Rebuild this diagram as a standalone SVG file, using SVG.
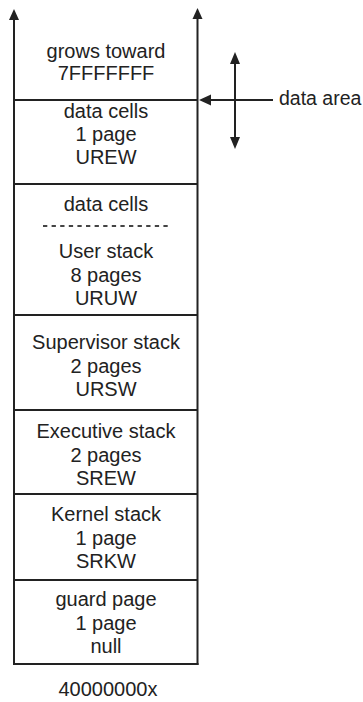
<svg xmlns="http://www.w3.org/2000/svg" width="363" height="702" viewBox="0 0 363 702">
<style>
.t{font-family:"Liberation Sans",Arial,sans-serif;font-size:20px;fill:#222;text-anchor:middle}
.ln{stroke:#222;stroke-width:2;fill:none}
.hd{fill:#222}
</style>
<rect width="363" height="702" fill="#fff"/>
<g id="connectors">
  <line class="ln" x1="14" y1="18" x2="14" y2="665"/>
  <polygon class="hd" points="14,9 9,20 19,20"/>
  <line class="ln" x1="197.5" y1="17" x2="197.5" y2="665"/>
  <polygon class="hd" points="197.5,8 192.5,19 202.5,19"/>
  <line class="ln" x1="210" y1="100" x2="273" y2="100"/>
  <polygon class="hd" points="199,100 211,94.5 211,105.5"/>
  <line class="ln" x1="235" y1="62" x2="235" y2="140"/>
  <polygon class="hd" points="235,52 230,64 240,64"/>
  <polygon class="hd" points="235,149 230,137 240,137"/>
</g>
<g id="top">
  <text class="t" x="106" y="58">grows toward</text>
  <text class="t" x="106" y="80">7FFFFFFF</text>
</g>
<g id="data-cells-1">
  <line class="ln" x1="14" y1="100" x2="197.5" y2="100"/>
  <text class="t" x="106" y="118">data cells</text>
  <text class="t" x="106" y="141">1 page</text>
  <text class="t" x="106" y="164">UREW</text>
</g>
<g id="user-stack">
  <line class="ln" x1="14" y1="184" x2="197.5" y2="184"/>
  <text class="t" x="106" y="211">data cells</text>
  <line x1="43" y1="226" x2="168" y2="226" stroke="#444" stroke-width="2" stroke-dasharray="4.3 4.3"/>
  <text class="t" x="106" y="258">User stack</text>
  <text class="t" x="106" y="282">8 pages</text>
  <text class="t" x="106" y="305">URUW</text>
</g>
<g id="supervisor-stack">
  <line class="ln" x1="14" y1="315" x2="197.5" y2="315"/>
  <text class="t" x="106" y="349">Supervisor stack</text>
  <text class="t" x="106" y="373">2 pages</text>
  <text class="t" x="106" y="396">URSW</text>
</g>
<g id="executive-stack">
  <line class="ln" x1="14" y1="410" x2="197.5" y2="410"/>
  <text class="t" x="106" y="438">Executive stack</text>
  <text class="t" x="106" y="462">2 pages</text>
  <text class="t" x="106" y="485">SREW</text>
</g>
<g id="kernel-stack">
  <line class="ln" x1="14" y1="494" x2="197.5" y2="494"/>
  <text class="t" x="106" y="521">Kernel stack</text>
  <text class="t" x="106" y="545">1 page</text>
  <text class="t" x="106" y="568">SRKW</text>
</g>
<g id="guard-page">
  <line class="ln" x1="14" y1="580" x2="197.5" y2="580"/>
  <text class="t" x="106" y="606">guard page</text>
  <text class="t" x="106" y="630">1 page</text>
  <text class="t" x="106" y="653">null</text>
  <line class="ln" x1="13" y1="664" x2="198.5" y2="664"/>
</g>
<g id="bottom-label">
  <text class="t" x="108" y="696">40000000x</text>
</g>
<g id="data-area-label">
  <text class="t" x="279" y="105" style="text-anchor:start;font-size:19.5px">data area</text>
</g>
</svg>
